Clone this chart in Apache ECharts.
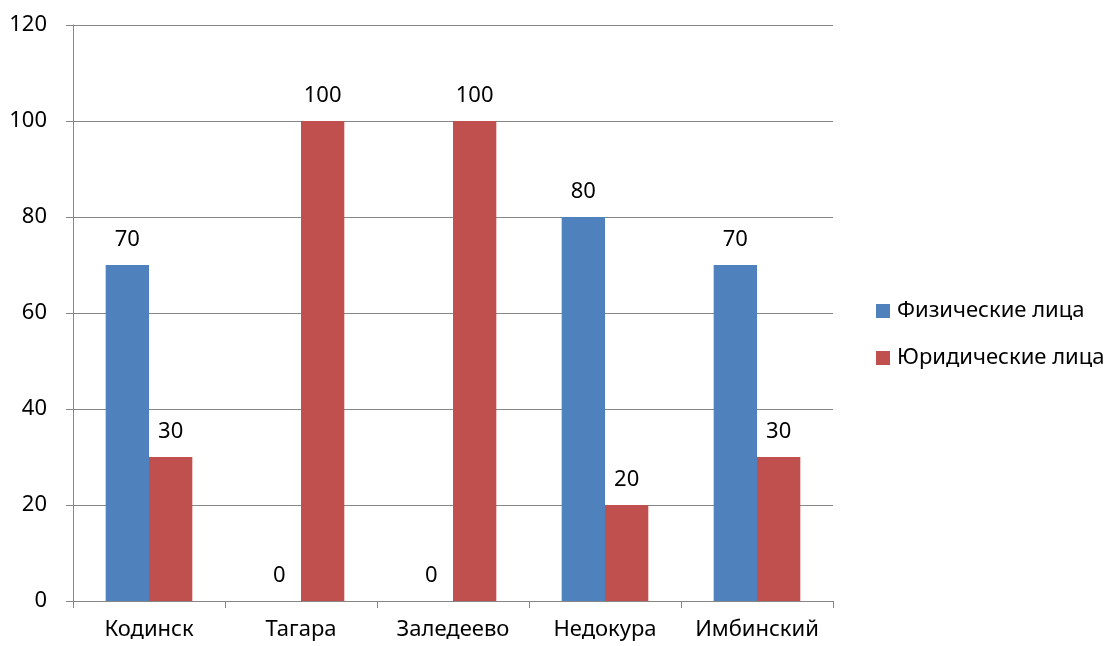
<!DOCTYPE html>
<html>
<head>
<meta charset="utf-8">
<script src="https://cdn.jsdelivr.net/npm/echarts@6/dist/echarts.min.js"></script>
<style>
  html, body { margin: 0; padding: 0; background: #fff; }
  #chart { width: 1118px; height: 646px; }
</style>
</head>
<body>
<div id="chart"></div>
<script>
// Settlements and the share of each client type
const categories = ['Кодинск', 'Тагара', 'Заледеево', 'Недокура', 'Имбинский'];
const physical = [70, 0, 0, 80, 70];
const legal = [30, 100, 100, 20, 30];
const seriesNames = ['Физические лица', 'Юридические лица'];
const yTicks = { min: 0, max: 120, interval: 20 };

const FONT = 'Noto Sans';
const FONT_SIZE = 22;
const AXIS_GRAY = '#868686';

const chart = echarts.init(document.getElementById('chart'), null, { renderer: 'canvas' });

const labelStyle = {
  show: true,
  position: 'top',
  distance: 14,
  color: '#000',
  fontFamily: FONT,
  fontSize: FONT_SIZE
};

chart.setOption({
  animation: false,
  textStyle: { fontFamily: FONT },
  grid: { left: 73, right: 285, top: 25, bottom: 45, containLabel: false },
  legend: {
    orient: 'vertical',
    left: 871,
    top: 295,
    itemWidth: 14,
    itemHeight: 14,
    itemGap: 25,
    icon: 'rect',
    textStyle: { fontFamily: FONT, fontSize: FONT_SIZE, color: '#000', padding: [0, 0, 0, 2] },
    data: seriesNames
  },
  xAxis: {
    type: 'category',
    data: categories,
    axisLine: { lineStyle: { color: AXIS_GRAY, width: 1 } },
    axisTick: { show: true, length: 7, interval: 0, alignWithLabel: false, lineStyle: { color: AXIS_GRAY } },
    axisLabel: { interval: 0, hideOverlap: false, color: '#000', fontFamily: FONT, fontSize: FONT_SIZE, margin: 18 }
  },
  yAxis: {
    type: 'value',
    min: yTicks.min,
    max: yTicks.max,
    interval: yTicks.interval,
    axisLine: { show: true, lineStyle: { color: AXIS_GRAY, width: 1 } },
    axisTick: { show: true, length: 7, lineStyle: { color: AXIS_GRAY } },
    splitLine: { show: true, lineStyle: { color: AXIS_GRAY, width: 1 } },
    axisLabel: { color: '#000', fontFamily: FONT, fontSize: FONT_SIZE, margin: 26 }
  },
  series: [
    {
      name: seriesNames[0],
      type: 'bar',
      data: physical,
      barGap: '0%',
      barCategoryGap: '43%',
      itemStyle: { color: '#4F81BD' },
      label: labelStyle
    },
    {
      name: seriesNames[1],
      type: 'bar',
      data: legal,
      barGap: '0%',
      barCategoryGap: '43%',
      itemStyle: { color: '#C0504D' },
      label: labelStyle
    }
  ]
});
</script>
</body>
</html>
